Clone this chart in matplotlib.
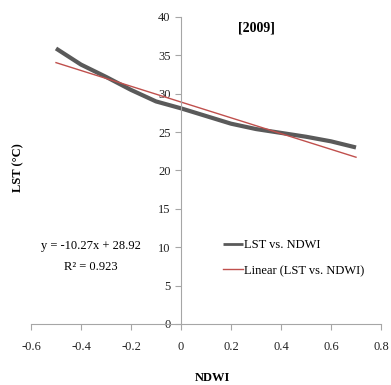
import numpy as np
import matplotlib.pyplot as plt

plt.rcParams['font.family'] = ['Liberation Serif', 'DejaVu Serif']

ndwi = [-0.5, -0.4, -0.3, -0.2, -0.1, 0.0, 0.1, 0.2, 0.3, 0.4, 0.5, 0.6, 0.7]
lst = [35.9, 33.8, 32.2, 30.5, 29.0, 28.1, 27.1, 26.1, 25.4, 24.9, 24.4, 23.8, 23.0]
slope = -10.27
intercept = 28.92
r2 = 0.923


def plot_lst():
    fig = plt.figure(figsize=(3.91, 3.85), dpi=100)
    ax = fig.add_axes([31 / 391, 1 - 324 / 385, 350 / 391, 307 / 385])

    ax.plot(ndwi, lst, color='#5a5a5a', lw=3, label='LST vs. NDWI',
            solid_joinstyle='round', solid_capstyle='butt')
    xf = np.array([ndwi[0], ndwi[-1]])
    ax.plot(xf, slope * xf + intercept, color='#c0504d', lw=1,
            label='Linear (LST vs. NDWI)')

    ax.set_xlim(-0.6, 0.8)
    ax.set_ylim(0, 40)
    ax.set_xticks([-0.6, -0.4, -0.2, 0, 0.2, 0.4, 0.6, 0.8])
    ax.set_xticklabels(['-0.6', '-0.4', '-0.2', '0', '0.2', '0.4', '0.6', '0.8'])
    ax.set_yticks(range(0, 41, 5))

    ax.spines['left'].set_position(('data', 0))
    ax.spines['top'].set_visible(False)
    ax.spines['right'].set_visible(False)
    for s in ['left', 'bottom']:
        ax.spines[s].set_color('#a6a6a6')
        ax.spines[s].set_linewidth(0.8)
    ax.tick_params(colors='#a6a6a6', labelcolor='#222222', labelsize=9,
                   length=4, width=0.8)
    ax.tick_params(axis='x', pad=8)

    fig.text(18 / 391, 1 - 168 / 385, 'LST (°C)', rotation=90, fontsize=9,
             fontweight='bold', ha='center', va='center')
    fig.text(212 / 391, 1 - 378 / 385, 'NDWI', fontsize=9, fontweight='bold',
             ha='center', va='center')
    ax.text(0.30, 38.6, '[2009]', fontsize=10, fontweight='bold', ha='center', va='center')

    ax.text(-0.36, 10.1, 'y = %.2fx + %.2f' % (slope, intercept), fontsize=9,
            ha='center', va='center')
    ax.text(-0.36, 7.4, 'R² = %.3f' % r2, fontsize=9, ha='center', va='center')

    leg = ax.legend(loc='center left', bbox_to_anchor=(0.515, 0.215), frameon=False,
                    fontsize=9, handlelength=1.6, handletextpad=0.15, labelspacing=1.1)
    leg.get_lines()[0].set_linewidth(2)

    fig.savefig('out.png', dpi=100)


def main():
    plot_lst()


if __name__ == "__main__":
    main()
